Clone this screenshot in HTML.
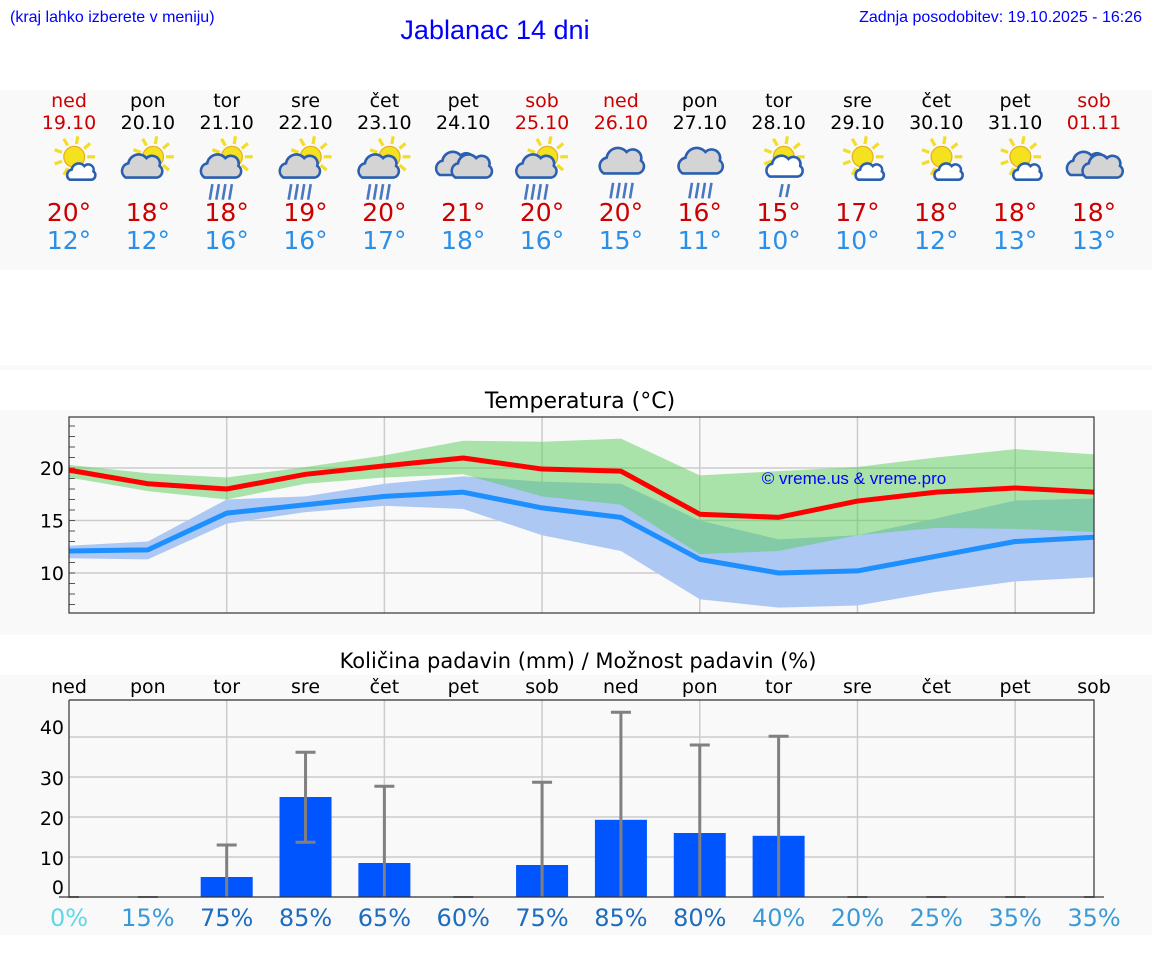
<!DOCTYPE html>
<html><head><meta charset="utf-8"><style>
body{margin:0;background:#fff;width:1152px;height:975px;overflow:hidden;font-family:"Liberation Sans","DejaVu Sans",sans-serif}
svg{display:block}
</style></head><body>
<svg id="s" width="1152" height="975" xmlns="http://www.w3.org/2000/svg" font-family="DejaVu Sans, Liberation Sans, sans-serif">
<rect x="0" y="90" width="1152" height="180" fill="#f9f9f9"/>
<rect x="0" y="365" width="1152" height="5" fill="#f9f9f9"/>
<rect x="0" y="410" width="1152" height="225" fill="#f9f9f9"/>
<rect x="0" y="675" width="1152" height="260" fill="#f9f9f9"/>
<text x="10" y="22" font-size="16" fill="#0000ff" font-family="Liberation Sans, sans-serif">(kraj lahko izberete v meniju)</text>
<text x="495" y="39" font-size="27" fill="#0000ff" text-anchor="middle" font-family="Liberation Sans, sans-serif">Jablanac 14 dni</text>
<text x="1142" y="22" font-size="16" fill="#0000ff" text-anchor="end" font-family="Liberation Sans, sans-serif">Zadnja posodobitev: 19.10.2025 - 16:26</text>
<text x="580" y="408" font-size="22" text-anchor="middle" fill="#000">Temperatura (°C)</text>
<text x="578" y="668" font-size="21" text-anchor="middle" fill="#000">Količina padavin (mm) / Možnost padavin (%)</text>
<g id="daily"></g>
<g id="temp"></g>
<g id="prec"></g>
</svg>
<script>
const days=["ned","pon","tor","sre","čet","pet","sob","ned","pon","tor","sre","čet","pet","sob"];
const dates=["19.10","20.10","21.10","22.10","23.10","24.10","25.10","26.10","27.10","28.10","29.10","30.10","31.10","01.11"];
const icons=["sunc","sunC","sunR","sunR","sunR","cloud","sunR","rain","rain","sunr","sunc","sunc","sunc","cloud"];
const tmax=[20,18,18,19,20,21,20,20,16,15,17,18,18,18];
const tmin=[12,12,16,16,17,18,16,15,11,10,10,12,13,13];
const redLine=[19.8,18.5,18.0,19.4,20.2,20.95,19.9,19.7,15.6,15.3,16.85,17.7,18.1,17.7];
const blueLine=[12.1,12.2,15.7,16.5,17.3,17.7,16.2,15.3,11.3,10.0,10.2,11.6,13.0,13.4];
const greenHi=[20.3,19.5,19.1,20.1,21.2,22.6,22.5,22.8,19.3,19.7,20.1,21.0,21.8,21.3];
const greenLo=[19.1,17.8,17.0,18.5,19.1,19.4,17.3,16.5,11.8,12.1,13.6,14.3,14.2,13.9];
const blueHi=[12.6,13.0,17.0,17.3,18.5,19.2,18.7,18.5,15.0,13.2,13.6,15.2,16.9,17.1];
const blueLo=[11.4,11.3,14.7,15.8,16.4,16.1,13.6,12.1,7.5,6.7,6.9,8.2,9.2,9.6];
const tempTicks=[10,15,20];
const precip=[0,0,5,25,8.5,0,8,19.3,16,15.3,0,0,0,0];
const precipHi=[0,0,13,36.2,27.7,0,28.7,46.2,38,40.2,0,0,0,0];
const precipLo=[0,0,0,13.7,0,0,0,0,0,0,0,0,0,0];
const chance=[0,15,75,85,65,60,75,85,80,40,20,25,35,35];
const precipTicks=[10,20,30,40];

const NS="http://www.w3.org/2000/svg";
function mk(tag,attrs,parent,txt){const e=document.createElementNS(NS,tag);for(const k in attrs)e.setAttribute(k,attrs[k]);if(txt!==undefined)e.textContent=txt;parent.appendChild(e);return e;}
const X=i=>69+i*(1094-69)/13;

const dg=document.getElementById('daily');
function sun(g,cx,cy,r){const s=mk('g',{},g);for(let a=0;a<360;a+=40){const rad=a*Math.PI/180;mk('line',{x1:cx+Math.cos(rad)*(r+2),y1:cy+Math.sin(rad)*(r+2),x2:cx+Math.cos(rad)*(r+8),y2:cy+Math.sin(rad)*(r+8),stroke:'#f2de2a','stroke-width':2.5},s);}mk('circle',{cx,cy,r,fill:'#f5e21e',stroke:'#e8b020','stroke-width':1},s);}
function cloud(g,cx,cy,s,fill){mk('path',{d:`M${cx-12*s},${cy+8*s} a${6*s},${6*s} 0 0 1 ${2*s},${-11*s} a${8*s},${8*s} 0 0 1 ${14*s},${-4*s} a${6*s},${6*s} 0 0 1 ${10*s},${6*s} a${5*s},${5*s} 0 0 1 ${-2*s},${9*s} z`,fill:fill,stroke:'#2b5fb0','stroke-width':2}, g);}
function rain(g,cx,cy){for(let k=0;k<4;k++)mk('line',{x1:cx-8+k*5+2,y1:cy,x2:cx-8+k*5,y2:cy+12,stroke:'#4a78c0','stroke-width':2},g);}
days.forEach((d,i)=>{
  const x=X(i), we=(d==="ned"||d==="sob");
  const g=mk('g',{},dg);
  
  
  mk('text',{x,y:107,'font-size':19,'text-anchor':'middle',fill:we?'#cc0000':'#000'},g,d);
  mk('text',{x,y:129,'font-size':19,'text-anchor':'middle',fill:we?'#cc0000':'#000'},g,dates[i]);
  const cy=158;
  const ic=mk('g',{transform:`translate(${x},${cy+4}) scale(1.3) translate(${-x},${-cy})`},g);
  
  
  const t=icons[i];
  if(t==="cloud"){cloud(ic,x-6,cy+2,1,'#d4d4d4');cloud(ic,x+6,cy+4,1,'#d4d4d4');}
  else if(t==="rain"){cloud(ic,x,cy,1.1,'#d4d4d4');rain(ic,x,cy+16);}
  else{sun(ic,x+4,cy-4,8);
    if(t==="sunc")cloud(ic,x+9,cy+8,0.7,'#fff');
    else if(t==="sunC")cloud(ic,x-5,cy+4,1,'#d4d4d4');
    else if(t==="sunR"){cloud(ic,x-5,cy+4,1,'#d4d4d4');rain(ic,x-5,cy+17);}
    else if(t==="sunr"){cloud(ic,x+4,cy+4,0.9,'#fff');mk('line',{x1:x+3,y1:cy+17,x2:x+1,y2:cy+27,stroke:'#4a78c0','stroke-width':2},ic);mk('line',{x1:x+8,y1:cy+17,x2:x+6,y2:cy+27,stroke:'#4a78c0','stroke-width':2},ic);}
  }
  const a=mk('text',{x,y:221,'font-size':25,'text-anchor':'middle',fill:'#cc0000'},g,tmax[i]+'°');
  
  
  const b=mk('text',{x,y:249,'font-size':25,'text-anchor':'middle',fill:'#2b8fe8'},g,tmin[i]+'°');
  
  
});

const tg=document.getElementById('temp');
const TY=t=>468-(t-20)*10.5;
const TL=69,TR=1094,TT=417,TB=613;
mk('rect',{x:TL,y:TT,width:TR-TL,height:TB-TT,fill:'#f9f9f9'},tg);
tempTicks.forEach(t=>{const l=mk('line',{x1:TL,x2:TR,y1:TY(t),y2:TY(t),stroke:'#ccc','stroke-width':1.5},tg);
 const tx=mk('text',{x:64,y:TY(t)+7,'font-size':19,'text-anchor':'end',fill:'#000'},tg,String(t));});
for(let i=2;i<13;i+=2)mk('line',{x1:X(i),x2:X(i),y1:TT,y2:TB,stroke:'#ccc','stroke-width':1.5},tg);
for(let t=7;t<=24;t++)mk('line',{x1:TL,x2:TL+6,y1:TY(t),y2:TY(t),stroke:'#555','stroke-width':1},tg);
function band(hi,lo,fill,name){const pts=hi.map((v,i)=>X(i)+','+TY(v)).concat(lo.map((v,i)=>X(i)+','+TY(v)).reverse());const p=mk('polygon',{points:pts.join(' '),fill},tg);}
band(blueHi,blueLo,'#adc8f3','min-temp-range');
band(greenHi,greenLo,'rgba(90,205,90,0.5)','max-temp-range');
function line(v,c,name){const p=mk('polyline',{points:v.map((t,i)=>X(i)+','+TY(t)).join(' '),fill:'none',stroke:c,'stroke-width':5,'stroke-linejoin':'round'},tg);}
line(blueLine,'#1e8fff','min-temp-line');
line(redLine,'#ff0000','max-temp-line');
mk('rect',{x:TL,y:TT,width:TR-TL,height:TB-TT,fill:'none',stroke:'#333','stroke-width':1.2},tg);
const cr=mk('text',{x:854,y:484,'font-size':17,'text-anchor':'middle',fill:'#0000ff',"font-family":"Liberation Sans, sans-serif"},tg,'© vreme.us & vreme.pro');



const pg=document.getElementById('prec');
const PL=69,PR=1094,PT=700,PB=897;
const PY=v=>PB-v*4;
mk('rect',{x:PL,y:PT,width:PR-PL,height:PB-PT,fill:'#f9f9f9'},pg);
precipTicks.forEach(v=>{mk('line',{x1:PL,x2:PR,y1:PY(v),y2:PY(v),stroke:'#ccc','stroke-width':1.5},pg);});
for(let i=2;i<13;i+=2)mk('line',{x1:X(i),x2:X(i),y1:PT,y2:PB,stroke:'#ccc','stroke-width':1.5},pg);
[["0",894],["10",865],["20",825],["30",785],["40",734]].forEach(([t,y])=>{const e=mk('text',{x:64,y,'font-size':19,'text-anchor':'end',fill:'#000'},pg,t);});
days.forEach((d,i)=>{
  const x=X(i);
  const dl=mk('text',{x,y:693,'font-size':19,'text-anchor':'middle',fill:'#000'},pg,d);
  
  
  if(precip[i]>0){const r=mk('rect',{x:x-26,y:PY(precip[i]),width:52,height:PB-PY(precip[i]),fill:'#0055ff'},pg);}
  if(precipHi[i]>0){const e=mk('g',{},pg);
    mk('line',{x1:x,x2:x,y1:PY(precipHi[i]),y2:PY(precipLo[i]),stroke:'#808080','stroke-width':3},e);
    mk('line',{x1:x-10,x2:x+10,y1:PY(precipHi[i]),y2:PY(precipHi[i]),stroke:'#808080','stroke-width':3},e);
    if(precipLo[i]>0)mk('line',{x1:x-10,x2:x+10,y1:PY(precipLo[i]),y2:PY(precipLo[i]),stroke:'#808080','stroke-width':3},e);
  } else mk('line',{x1:x-10,x2:x+10,y1:PB,y2:PB,stroke:'#808080','stroke-width':2},pg);
  const c=chance[i], col=c<10?'#5fd8e8':c<=40?'#3a9ad8':'#1d6cbf';
  const ct=mk('text',{x,y:926,'font-size':24,'text-anchor':'middle',fill:col},pg,c+'%');
  
  
});
mk('polyline',{points:`${PL},${PT} ${PR},${PT} ${PR},${PB} ${PL},${PB} ${PL},${PT}`,fill:'none',stroke:'#333','stroke-width':1.2},pg);
</script>
</body></html>
